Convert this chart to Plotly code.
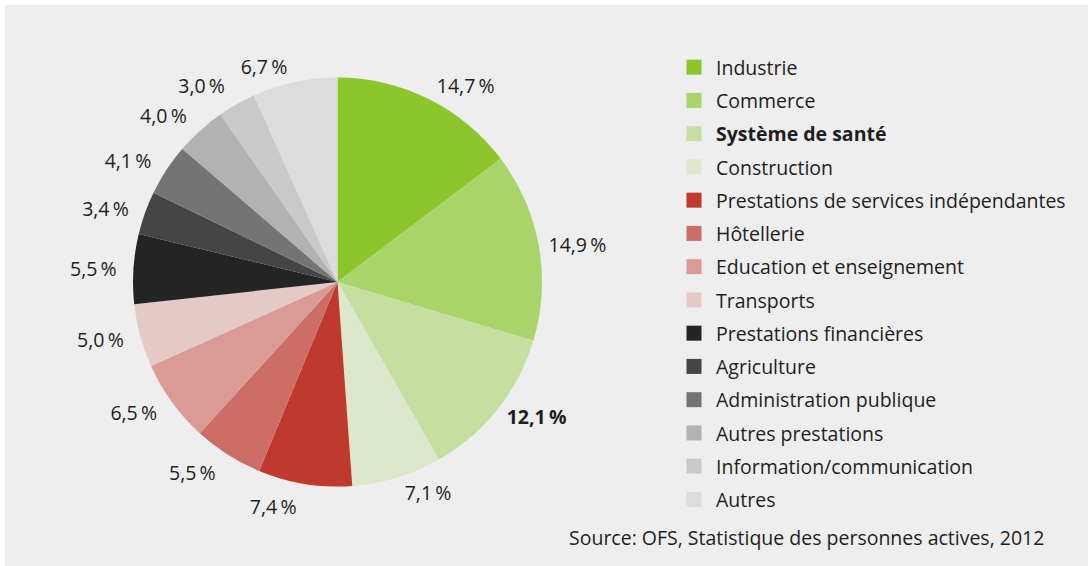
import plotly.graph_objects as go

categories = [
    "Industrie", "Commerce", "Système de santé", "Construction",
    "Prestations de services indépendantes", "Hôtellerie",
    "Education et enseignement", "Transports", "Prestations financières",
    "Agriculture", "Administration publique", "Autres prestations",
    "Information/communication", "Autres",
]
shares = [14.7, 14.9, 12.1, 7.1, 7.4, 5.5, 6.5, 5.0, 5.5, 3.4, 4.1, 4.0, 3.0, 6.7]
colors = [
    "#8cc62b", "#a8d46a", "#c6dfa0", "#dde7cb",
    "#c0392d", "#cc6d66", "#da9b97", "#e5c9c6",
    "#242424", "#454545", "#747474", "#b2b2b2",
    "#c9c9c9", "#dcdcdc",
]
highlight = "Système de santé"
source_text = "Source: OFS, Statistique des personnes actives, 2012"

W, H = 1090, 566
FONT = "Open Sans"
FS = 19.5
TXT = "#1e1e1e"

# pie geometry (pixels)
CX, CY, R = 337.5, 282.0, 204.5

# label rings: (extra radius in px, categories whose label sits on that ring)
label_rings = [
    (3, categories[0:4]),
    (10, categories[4:13]),
    (3, categories[13:14]),
]


def domain(radius):
    return dict(
        x=[(CX - radius) / W, (CX + radius) / W],
        y=[(H - CY - radius) / H, (H - CY + radius) / H],
    )


templates = [
    ("<b>%{value:.1f}\u2009%</b>" if c == highlight else "%{value:.1f}\u2009%")
    for c in categories
]

fig = go.Figure()
# visible pie
fig.add_trace(go.Pie(
    labels=categories, values=shares, sort=False,
    direction="clockwise", rotation=0,
    marker=dict(colors=colors, line=dict(width=0)),
    textinfo="none", showlegend=False,
    domain=domain(R), hoverinfo="label+value",
))
# transparent pies carrying the outside percentage labels
for extra, members in label_rings:
    fig.add_trace(go.Pie(
        labels=categories, values=shares, sort=False,
        direction="clockwise", rotation=0,
        marker=dict(colors=["rgba(0,0,0,0)"] * len(categories), line=dict(width=0)),
        texttemplate=templates,
        textposition=["outside" if c in members else "none" for c in categories],
        textfont=dict(family=FONT, size=FS, color=TXT),
        showlegend=False, hoverinfo="skip",
        domain=domain(R + extra),
    ))

# legend entries (one per category so the rows can be spaced like the reference)
for i, (c, col) in enumerate(zip(categories, colors)):
    name = f"<b>{c}</b>" if c == highlight else c
    fig.add_trace(go.Scatter(
        x=[None], y=[None], mode="markers", name=name,
        marker=dict(symbol="square", size=15, color=col),
        legendgroup=f"g{i}", showlegend=True, hoverinfo="skip",
    ))

fig.add_shape(
    type="rect", xref="paper", yref="paper",
    x0=5 / W, x1=1088 / W, y0=0, y1=(H - 5) / H,
    fillcolor="#eeeeee", line=dict(width=0), layer="below",
)

fig.add_annotation(
    text=source_text, xref="paper", yref="paper",
    x=1046 / W, y=(H - 537) / H, xanchor="right", yanchor="middle",
    showarrow=False, font=dict(family=FONT, size=FS, color=TXT),
)

fig.update_layout(
    width=W, height=H,
    margin=dict(l=0, r=0, t=0, b=0),
    paper_bgcolor="#ffffff",
    plot_bgcolor="rgba(0,0,0,0)",
    separators=", ",
    font=dict(family=FONT, size=FS, color=TXT),
    xaxis=dict(visible=False),
    yaxis=dict(visible=False),
    legend=dict(
        x=672 / W, y=(H - 48) / H, xanchor="left", yanchor="top",
        traceorder="grouped", tracegroupgap=4.9,
        bgcolor="rgba(0,0,0,0)", borderwidth=0,
        font=dict(family=FONT, size=FS, color=TXT),
        itemwidth=34,
    ),
)

fig.write_html(
    "out.html",
    config={"displayModeBar": False},
    post_script="document.body.style.margin='0px';",
)
